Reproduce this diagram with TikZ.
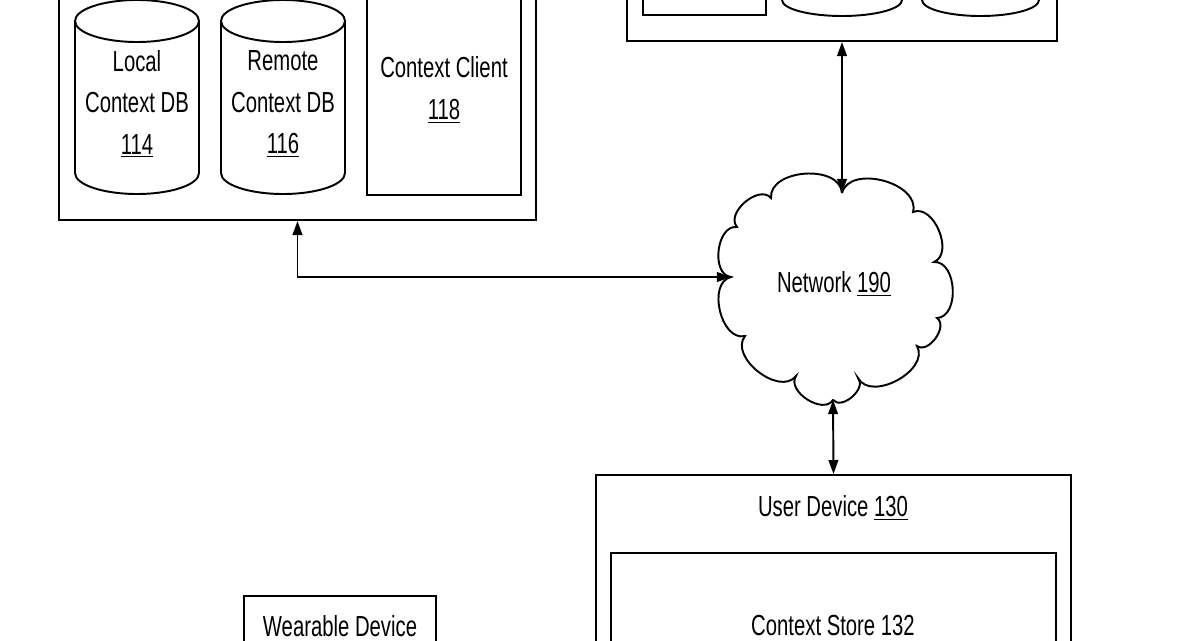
\documentclass[tikz,border=0pt]{standalone}
\usepackage{fontspec}
\setmainfont[FakeStretch=0.7]{Liberation Sans}
\usetikzlibrary{positioning,arrows.meta}

\begin{document}
\begin{tikzpicture}[x=0.02cm,y=-0.02cm,
    line width=1.1pt,
    font=\fontsize{16.5}{23.5}\selectfont,
    box/.style={draw,rectangle,minimum width=#1},
    lbl/.style={align=center,inner sep=0pt},
    puff/.style={bend left=90,looseness=1.05},
    biarrow/.style={{Triangle[length=8pt,width=5.5pt]}-{Triangle[length=8pt,width=5.5pt]}}]
  \useasboundingbox (0,0) rectangle (1200,640);
  \clip (0,0) rectangle (1200,640);

  % context server
  \node[box=9.54cm,minimum height=5cm] (ctxsrv) at (297.5,95) {};
  \draw (75,21) -- (75,173) arc[start angle=180,end angle=0,x radius=62,y radius=21] -- (199,21);
  \draw (137,21) ellipse[x radius=62,y radius=21];
  \node[lbl] (localdb) at (137,104) {Local\\Context DB\\\underline{114}};
  \draw (221,21) -- (221,173) arc[start angle=180,end angle=0,x radius=62,y radius=21] -- (345,21);
  \draw (283,21) ellipse[x radius=62,y radius=21];
  \node[lbl] (remotedb) at (283,104) {Remote\\Context DB\\\underline{116}};
  \node[box=3.08cm,minimum height=4.5cm] (client) at (444,82.5) {};
  \node[lbl] (clienttxt) at (444,90) {Context Client\\\underline{118}};

  % server at the top right
  \node[box=8.6cm,minimum height=2.02cm] (srv) at (842,-9.5) {};
  \node[box=2.46cm,minimum height=1.5cm] (srvmod) at (704.5,-22.5) {};
  \draw (782,-60) -- (782,0) arc[start angle=180,end angle=0,x radius=60,y radius=16] -- (902,-60);
  \draw (922,-60) -- (922,0) arc[start angle=180,end angle=0,x radius=58.5,y radius=16] -- (1039,-60);

  % network
  \coordinate (nettop) at (842,193);
  \coordinate (netleft) at (731,277);
  \coordinate (netbot) at (833,400);
  \draw (nettop) to[puff] (913,212) to[puff] (934,262) to[puff] (937,318)
    to[puff] (917,346) to[puff] (858,378) to[puff] (netbot) to[puff] (796,376)
    to[puff] (745,336) to[puff] (netleft) to[puff] (737,227) to[puff] (771,198)
    to[puff] (nettop);
  \node[lbl] (net) at (834,284) {Network \underline{190}};

  % user device
  \node[box=9.5cm,minimum height=4.5cm] (dev) at (833.5,587.5) {};
  \node[lbl] (devtxt) at (833,508) {User Device \underline{130}};
  \node[box=8.9cm,minimum height=3.34cm] (store) at (833.5,636.5) {};
  \node[lbl] (storetxt) at (833,626) {Context Store 132};

  % wearable device
  \node[box=3.84cm,minimum height=2.48cm] (wear) at (340,658) {};
  \node[lbl] (weartxt) at (340,626) {Wearable Device};

  \draw[biarrow] (ctxsrv.south) |- (netleft);
  \draw[biarrow] (srv.south) -- (nettop);
  \draw[biarrow] (netbot) -- (dev.north);
\end{tikzpicture}
\end{document}
